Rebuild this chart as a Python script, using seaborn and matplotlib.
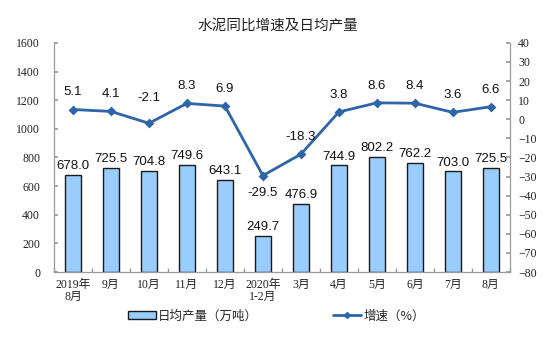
import matplotlib
matplotlib.use("Agg")
import matplotlib.pyplot as plt
import seaborn as sns
import pandas as pd
import numpy as np
from matplotlib.patches import Patch
from matplotlib.lines import Line2D

categories = ["2019年\n8月", "9月", "10月", "11月", "12月", "2020年\n1-2月",
              "3月", "4月", "5月", "6月", "7月", "8月"]
output = [678.0, 725.5, 704.8, 749.6, 643.1, 249.7, 476.9, 744.9, 802.2, 762.2, 703.0, 725.5]
growth = [5.1, 4.1, -2.1, 8.3, 6.9, -29.5, -18.3, 3.8, 8.6, 8.4, 3.6, 6.6]
left_ticks = [0, 200, 400, 600, 800, 1000, 1200, 1400, 1600]
right_ticks = [-80, -70, -60, -50, -40, -30, -20, -10, 0, 10, 20, 30, 40]

sns.set_theme(style="white")
plt.rcParams['font.family'] = ['Liberation Serif', 'Noto Sans CJK SC']

df = pd.DataFrame({"cat": categories, "output": output, "growth": growth})

fig = plt.figure(figsize=(5.56, 3.41), dpi=100)
ax = fig.add_axes([0.097, 0.2023, 0.82, 0.672])

bar_color = "#99CCFF"
line_color = "#2E64A8"

sns.barplot(data=df, x="cat", y="output", ax=ax, color=bar_color,
            edgecolor="#1a1a1a", linewidth=1.0, width=0.42, saturation=1)
ax.set_ylim(0, 1600)
ax.set_yticks(left_ticks)
ax.set_xlim(-0.5, len(categories) - 0.5)
ax.set_xlabel("")
ax.set_ylabel("")

ax2 = ax.twinx()
sns.pointplot(data=df, x="cat", y="growth", ax=ax2, color=line_color,
              markers="D", markersize=3.5, linewidth=2.0)
ax2.set_ylim(-80, 40)
ax2.set_yticks(right_ticks)
ax2.set_xlim(-0.5, len(categories) - 0.5)
ax2.set_ylabel("")
ax2.set_xlabel("")
ax2.grid(False)
ax.grid(False)

for a in (ax, ax2):
    a.spines['top'].set_visible(False)
    for s in ('left', 'right', 'bottom'):
        a.spines[s].set_color("#9a9a9a")
        a.spines[s].set_linewidth(0.8)

ax.tick_params(axis='y', direction='in', length=3, color="#9a9a9a", labelsize=8.5,
               pad=10, left=True, labelcolor="#222222")
ax2.tick_params(axis='y', direction='in', length=3, color="#9a9a9a", labelsize=8.5,
                pad=6, right=True, labelcolor="#222222")
ax.tick_params(axis='x', length=0, labelsize=8.5, pad=5, labelcolor="#222222")
ax.set_xticks(range(len(categories)))
ax.set_xticklabels(categories, family=['Liberation Serif', 'Noto Sans CJK SC'],
                   linespacing=1.0)
ax.set_xticks(np.arange(-0.5, len(categories), 1), minor=True)
ax.tick_params(axis='x', which='minor', direction='in', length=3, color="#9a9a9a", bottom=True)

for i, v in enumerate(output):
    ax.annotate(f"{v:.1f}", (i, v), xytext=(0, 2), textcoords="offset points",
                ha="center", va="bottom", fontsize=9.5, family="Liberation Sans",
                color="#111111")

offsets = {2: 14, 5: -8}
for i, v in enumerate(growth):
    off = offsets.get(i, 8)
    va = "top" if off < 0 else "bottom"
    ax2.annotate(f"{v:.1f}", (i, v), xytext=(0, off), textcoords="offset points",
                 ha="center", va=va, fontsize=9.5, family="Liberation Sans",
                 color="#111111")

ax2.set_zorder(ax.get_zorder() + 1)
ax2.patch.set_visible(False)

fig.text(0.5, 0.925, "水泥同比增速及日均产量", ha="center", va="center",
         fontsize=10.5, family=['Noto Sans CJK SC'], color="#222222")

handles = [Patch(facecolor=bar_color, edgecolor="#1a1a1a", linewidth=1.0),
           Line2D([0], [0], color=line_color, lw=2, marker="D", markersize=3)]
fig.legend(handles, ["日均产量（万吨）", "增速（%）"], loc="center",
           bbox_to_anchor=(0.497, 0.073), ncol=2, frameon=False, columnspacing=6,
           handlelength=2.2, handleheight=0.6, handletextpad=0.2,
           prop={'family': ['Noto Sans CJK SC'], 'size': 9})

fig.savefig("out.png", dpi=100)
